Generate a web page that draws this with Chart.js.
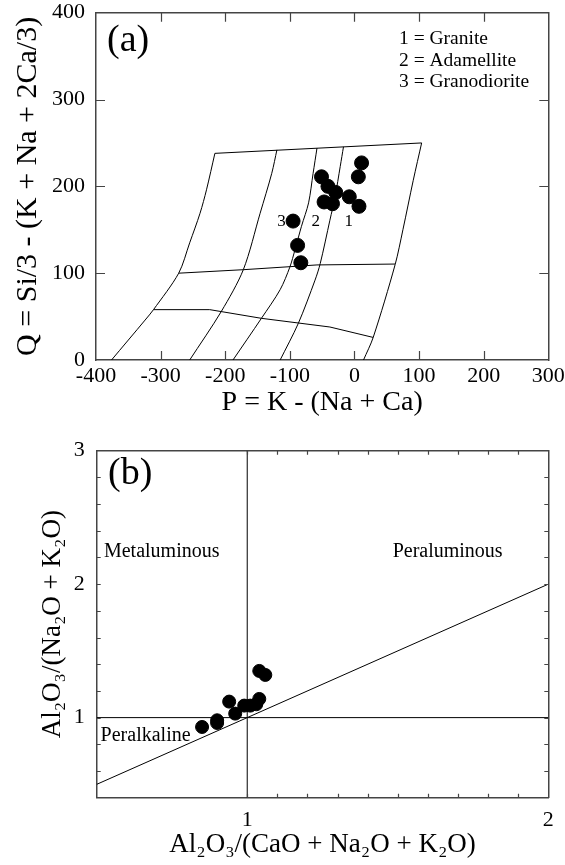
<!DOCTYPE html>
<html><head><meta charset="utf-8">
<script src="https://cdn.jsdelivr.net/npm/chart.js@4.4.0/dist/chart.umd.min.js"></script>
<style>
html,body{margin:0;padding:0;background:#fff;width:565px;height:865px;overflow:hidden}
canvas{position:absolute;left:0}
#ca{top:0}
#cb{top:430px}
</style></head>
<body>
<canvas id="ca" width="565" height="430"></canvas>
<canvas id="cb" width="565" height="435"></canvas>
<script>
// ---------- Panel (a): P-Q diagram ----------
const sampleP = [11, 6, -51, -41, -29, -8, 7, -47, -34, -95, -88, -83];
const sampleQ = [227, 211, 211, 200, 193, 188, 177, 182, 180, 160, 132, 112];

// field boundaries of the P-Q grid, [P, Q] pairs
const topLine  = [[-216,238],[104,250]];
const midLine  = [[-272,100],[-172,104],[-58,109.5],[63,110.5]];
const lowLine  = [[-311,58],[-224,58],[-144,48],[-38,38],[29,26]];
const curveA   = [[-216,238],[-229,196],[-239,169],[-255,135],[-272,100],[-311,58],[-324,46],[-376,0]];
const curveB   = [[-120,242],[-128,215],[-146,169],[-172,104],[-206,56],[-255,0]];
const curveC   = [[-58,244],[-64,215],[-71,181],[-82,154],[-92,127],[-100,107],[-115,81],[-144,48],[-188,0]];
const curveD   = [[-17,245.5],[-22,223],[-30,188],[-38,161],[-53,111],[-61,92],[-87,42],[-115,0]];
const curveE   = [[104,250],[91,207],[75,150],[63,110],[29,26],[14,0]];

const zoneLabels = ['3','2','1'];
const zoneLabelP = [-113, -60, -9];
const zoneLabelQ = [160, 160, 160];
const legendLines = ['1 = Granite','2 = Adamellite','3 = Granodiorite'];

// ---------- Panel (b): A/NK vs A/CNK ----------
const acnk = [0.85, 0.90, 0.90, 0.94, 0.96, 0.99, 1.01, 1.03, 1.04, 1.04, 1.06];
const ank  = [0.93, 0.98, 0.96, 1.12, 1.03, 1.09, 1.09, 1.10, 1.14, 1.35, 1.32];
const lineVert = [[1,0.4],[1,3]];
const lineHorz = [[0.5,1],[2,1]];
const lineDiag = [[0.5,0.5],[2,2]];
const bTicksX = [1,1.1,1.2,1.3,1.4,1.5,1.6,1.7,1.8,1.9,2];
const bTicksY = [0.6,0.8,1,1.2,1.4,1.6,1.8,2,2.2,2.4,2.6,2.8,3];
const fieldNames = ['Metaluminous','Peraluminous','Peralkaline'];
const fieldX = [0.524, 1.483, 0.513];
const fieldY = [2.24, 2.24, 0.866];

Chart.defaults.font.family = "'Liberation Serif','Times New Roman',serif";
Chart.defaults.color = '#000';

const FRAME = '#444';
const pairs = a => a.map(p => ({x:p[0], y:p[1]}));
const zip = (xs, ys) => xs.map((v,i) => ({x:v, y:ys[i]}));
function lineDs(arr, tension){
  return {type:'line', data:pairs(arr), borderColor:'#000', borderWidth:1, pointRadius:0, fill:false, tension:tension||0, showLine:true};
}
function fixSize(size){
  return function(s){
    if (s.isHorizontal()) s.height = size; else s.width = size;
    s.paddingLeft = 0; s.paddingRight = 0; s.paddingTop = 0; s.paddingBottom = 0;
  };
}

const innerTicks = {
  id:'innerTicks',
  afterDraw(chart, args, o){
    const {ctx, chartArea:a} = chart;
    const xs = chart.scales.x, ys = chart.scales.y;
    ctx.save();
    ctx.strokeStyle = o.color; ctx.lineWidth = o.width;
    ctx.beginPath();
    xs.ticks.forEach(t => {
      const p = Math.round(xs.getPixelForValue(t.value)) + 0.5;
      if (p <= a.left + 1 || p >= a.right - 1) return;
      ctx.moveTo(p, a.bottom); ctx.lineTo(p, a.bottom - o.len);
      ctx.moveTo(p, a.top); ctx.lineTo(p, a.top + o.len);
    });
    ys.ticks.forEach(t => {
      const p = Math.round(ys.getPixelForValue(t.value)) + 0.5;
      if (p <= a.top + 1 || p >= a.bottom - 1) return;
      ctx.moveTo(a.left, p); ctx.lineTo(a.left + o.len, p);
      ctx.moveTo(a.right, p); ctx.lineTo(a.right - o.len, p);
    });
    ctx.stroke();
    ctx.restore();
  }
};

const textNotes = {
  id:'textNotes',
  afterDatasetsDraw(chart, args, o){
    const {ctx} = chart;
    const xs = chart.scales.x, ys = chart.scales.y;
    ctx.save();
    ctx.fillStyle = '#000';
    (o.items || []).forEach(it => {
      ctx.font = it.size + "px 'Liberation Serif', serif";
      ctx.textAlign = it.align || 'left';
      ctx.textBaseline = 'middle';
      const px = it.px !== undefined ? it.px : xs.getPixelForValue(it.x);
      const py = it.py !== undefined ? it.py : ys.getPixelForValue(it.y);
      ctx.fillText(it.text, px, py);
    });
    ctx.restore();
  }
};

function mirrorScale(pos, min, max){
  return {type:'linear', position:pos, min:min, max:max, display:true,
    ticks:{display:false}, grid:{display:false, drawOnChartArea:false, drawTicks:false},
    border:{display:true, color:FRAME, width:1.5}, afterFit:fixSize(0)};
}

// ---------- chart (a) ----------
const notesA = [{text:'(a)', size:38, px:107, py:41}];
legendLines.forEach((t,i) => notesA.push({text:t, size:19.5, px:399, py:39 + i*21.5}));
zoneLabels.forEach((t,i) => notesA.push({text:t, size:17, x:zoneLabelP[i], y:zoneLabelQ[i], align:'center'}));

new Chart(document.getElementById('ca'), {
  type:'scatter',
  data:{datasets:[
    {data:zip(sampleP, sampleQ), backgroundColor:'#000', borderColor:'#000', pointRadius:7, pointHoverRadius:7, showLine:false},
    lineDs(topLine), lineDs(midLine), lineDs(lowLine),
    lineDs(curveA, 0.3), lineDs(curveB, 0.3), lineDs(curveC, 0.3), lineDs(curveD, 0.3), lineDs(curveE, 0.3)
  ]},
  options:{
    responsive:false, animation:false, devicePixelRatio:1,
    layout:{padding:{left:0, right:16.7, top:12.7, bottom:0}},
    plugins:{legend:{display:false}, tooltip:{enabled:false},
      innerTicks:{len:9, color:FRAME, width:1.2},
      textNotes:{items:notesA}},
    scales:{
      x:{type:'linear', min:-400, max:300,
        ticks:{stepSize:100, font:{size:22}, padding:3, maxRotation:0, autoSkip:false},
        grid:{display:false, drawOnChartArea:false, drawTicks:false},
        border:{display:true, color:FRAME, width:1.5},
        title:{display:true, text:'P = K - (Na + Ca)', font:{size:28}, padding:{top:0, bottom:11}},
        afterFit:fixSize(70)},
      y:{type:'linear', min:0, max:400,
        ticks:{stepSize:100, font:{size:22}, padding:11, autoSkip:false},
        grid:{display:false, drawOnChartArea:false, drawTicks:false},
        border:{display:true, color:FRAME, width:1.5},
        title:{display:true, text:'Q = Si/3 - (K + Na + 2Ca/3)', font:{size:30}, padding:{top:10, bottom:0}},
        afterFit:fixSize(96)},
      x2:mirrorScale('top', -400, 300),
      y2:mirrorScale('right', 0, 400)
    }
  },
  plugins:[innerTicks, textNotes]
});

// ---------- chart (b) ----------
const notesB = [{text:'(b)', size:38, px:108, py:44}];
fieldNames.forEach((t,i) => notesB.push({text:t, size:20, x:fieldX[i], y:fieldY[i]}));

const intLabel = v => (Math.abs(v - Math.round(v)) < 1e-9 ? String(Math.round(v)) : '');

new Chart(document.getElementById('cb'), {
  type:'scatter',
  data:{datasets:[
    {data:zip(acnk, ank), backgroundColor:'#000', borderColor:'#000', pointRadius:6.5, pointHoverRadius:6.5, showLine:false},
    lineDs(lineVert), lineDs(lineHorz), lineDs(lineDiag)
  ]},
  options:{
    responsive:false, animation:false, devicePixelRatio:1,
    layout:{padding:{left:0, right:16.7, top:20.7, bottom:0}},
    plugins:{legend:{display:false}, tooltip:{enabled:false},
      innerTicks:{len:4, color:FRAME, width:1.2},
      textNotes:{items:notesB}},
    scales:{
      x:{type:'linear', min:0.5, max:2,
        afterBuildTicks:s => { s.ticks = bTicksX.map(v => ({value:v})); },
        ticks:{font:{size:22}, padding:9, maxRotation:0, autoSkip:false, callback:intLabel},
        grid:{display:false, drawOnChartArea:false, drawTicks:false},
        border:{display:true, color:FRAME, width:1.5},
        title:{display:true, text:'Al₂O₃/(CaO + Na₂O + K₂O)', font:{size:27}, padding:{top:0, bottom:4}},
        afterFit:fixSize(67.3)},
      y:{type:'linear', min:0.4, max:3,
        afterBuildTicks:s => { s.ticks = bTicksY.map(v => ({value:v})); },
        ticks:{font:{size:22}, padding:12, autoSkip:false, callback:intLabel},
        grid:{display:false, drawOnChartArea:false, drawTicks:false},
        border:{display:true, color:FRAME, width:1.5},
        title:{display:true, text:'Al₂O₃/(Na₂O + K₂O)', font:{size:27}, padding:{top:37, bottom:0}},
        afterFit:fixSize(96.7)},
      x2:mirrorScale('top', 0.5, 2),
      y2:mirrorScale('right', 0.4, 3)
    }
  },
  plugins:[innerTicks, textNotes]
});
</script>
</body></html>
